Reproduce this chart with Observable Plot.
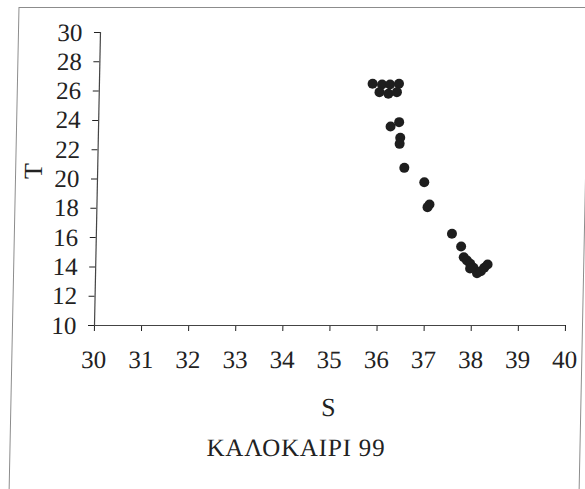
<!DOCTYPE html>
<html>
<head>
<meta charset="utf-8">
<script src="https://cdn.jsdelivr.net/npm/d3@7"></script>
<script src="https://cdn.jsdelivr.net/npm/@observablehq/plot@0.6"></script>
<style>
  html, body { margin: 0; padding: 0; background: #fff; }
  #wrap {
    position: relative; width: 585px; height: 489px; overflow: hidden;
    transform: skewX(-1.17deg); transform-origin: 0 325px;
    font-family: "Liberation Serif", "Times New Roman", Times, "DejaVu Serif", serif; color: #222;
  }
  #frame {
    position: absolute; left: 12px; top: 7px; width: 571px; height: 540px;
    box-sizing: border-box; border: 1.5px solid #8c8c8c;
  }
  #chart { position: relative; }
  #caption {
    position: relative; width: 585px; box-sizing: border-box; padding-left: 12px;
    text-align: center; font-size: 25px; line-height: 36px; color: #222; letter-spacing: 0.8px;
    font-family: "Liberation Serif", "Times New Roman", Times, "DejaVu Serif", serif;
  }
  #chart svg text { font-family: "Liberation Serif", "Times New Roman", Times, "DejaVu Serif", serif; }
</style>
</head>
<body>
<div id="wrap">
  <div id="frame"></div>
  <div id="chart"></div>
  <div id="caption">ΚΑΛΟΚΑΙΡΙ 99</div>
</div>
<script>
// Salinity (S) and temperature (T) of each sample
const S = [35.80, 36.00, 36.17, 36.36, 35.95, 36.14, 36.32,
           36.20, 36.38, 36.41, 36.40, 36.51, 36.94, 37.06, 37.02,
           37.55, 37.75, 37.81, 37.88, 37.95, 38.02, 38.10, 38.18,
           38.25, 38.32, 37.95];
const T = [26.50, 26.45, 26.45, 26.50, 25.93, 25.82, 25.93,
           23.58, 23.88, 22.81, 22.40, 20.76, 19.78, 18.26, 18.08,
           16.26, 15.39, 14.66, 14.44, 14.21, 13.94, 13.57, 13.71,
           13.94, 14.16, 13.89];
const xTicks = [30, 31, 32, 33, 34, 35, 36, 37, 38, 39, 40];
const yTicks = [10, 12, 14, 16, 18, 20, 22, 24, 26, 28, 30];
const xLabel = "S";
const yLabel = "T";

const data = S.map((s, i) => ({s, t: T[i]}));

const chart = Plot.plot({
  width: 585,
  height: 430,
  marginLeft: 94,
  marginRight: 20,
  marginTop: 32,
  marginBottom: 105,
  style: {
    fontFamily: '"Liberation Serif", "Times New Roman", Times, serif',
    fontSize: "25px",
    color: "#222",
    background: "transparent",
    overflow: "visible"
  },
  x: {domain: [30, 40], ticks: xTicks, tickSize: 6, tickPadding: 19, label: null},
  y: {domain: [10, 30], ticks: yTicks, tickSize: 6, tickPadding: 12, label: null},
  marks: [
    Plot.ruleY([10], {stroke: "#444", strokeWidth: 1.2}),
    Plot.ruleX([30], {stroke: "#444", strokeWidth: 1.2}),
    Plot.dot(data, {x: "s", y: "t", r: 5, fill: "#1e1e1e", stroke: "none"}),
    Plot.text([yLabel], {text: d => d, frameAnchor: "left", dx: -64, rotate: -90, fontSize: 26, fill: "#222"}),
    Plot.text([xLabel], {text: d => d, frameAnchor: "bottom", dy: 90, fontSize: 26, fill: "#222"})
  ]
});
document.getElementById("chart").appendChild(chart);
</script>
</body>
</html>
